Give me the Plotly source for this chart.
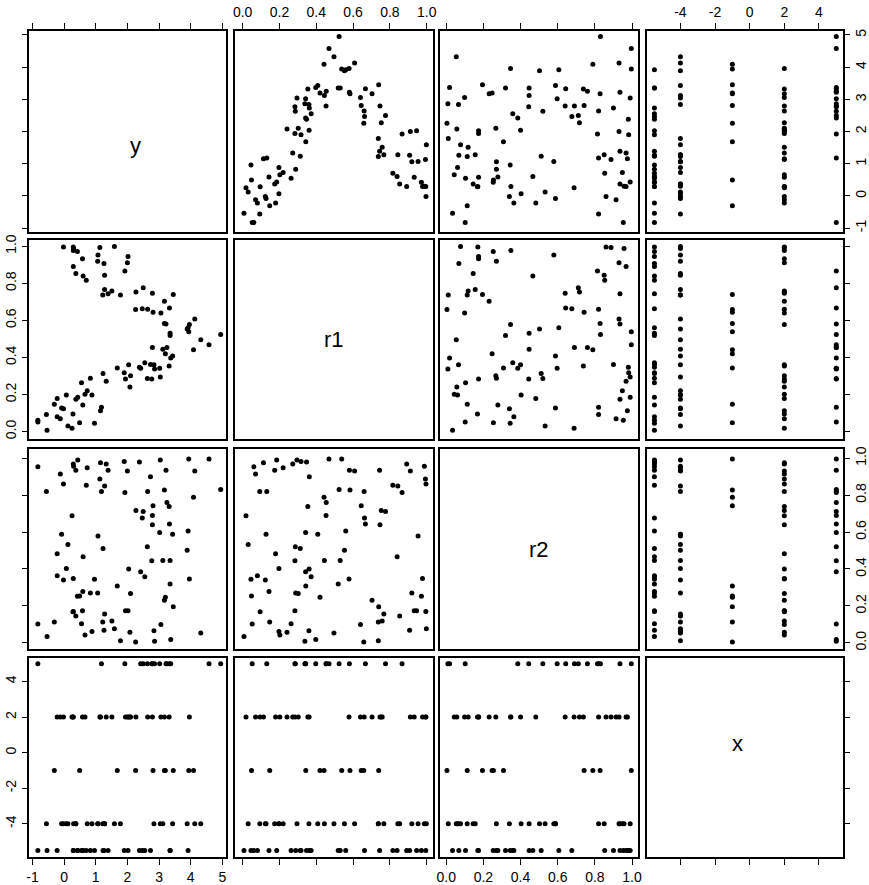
import plotly.graph_objects as go

r1 = [0.007, 0.018, 0.030, 0.045, 0.048, 0.052, 0.061, 0.070, 0.080, 0.093,
      0.095, 0.113, 0.123, 0.127, 0.131, 0.143, 0.147, 0.174, 0.179, 0.185,
      0.197, 0.197, 0.202, 0.220, 0.241, 0.263, 0.272, 0.284, 0.284, 0.286,
      0.288, 0.295, 0.302, 0.313, 0.317, 0.338, 0.342, 0.342, 0.343, 0.347,
      0.354, 0.360, 0.361, 0.362, 0.372, 0.397, 0.408, 0.420, 0.442, 0.444,
      0.453, 0.454, 0.469, 0.496, 0.519, 0.524, 0.530, 0.538, 0.553, 0.560,
      0.578, 0.580, 0.583, 0.608, 0.640, 0.644, 0.658, 0.660, 0.662, 0.667,
      0.703, 0.737, 0.737, 0.739, 0.744, 0.746, 0.753, 0.758, 0.767, 0.776,
      0.816, 0.839, 0.843, 0.853, 0.866, 0.891, 0.907, 0.911, 0.919, 0.932,
      0.945, 0.953, 0.971, 0.977, 0.987, 0.993, 0.995, 0.996, 0.998]
y = [-0.54, 0.25, 0.12, 0.96, 0.49, -0.83, -0.83, -0.12, -0.22, -0.56,
     0.28, 1.15, -0.02, -0.08, 1.18, 0.59, -0.31, 0.37, -0.22, 0.43,
     0.88, 0.07, 0.66, 0.73, 2.08, 0.55, 1.33, 2.77, 1.94, 2.63,
     0.83, 3.04, 2.10, 1.23, 1.90, 2.86, 3.02, 2.42, 1.68, 2.38,
     3.32, 2.84, 2.04, 2.73, 2.55, 3.37, 3.43, 3.20, 4.09, 3.12,
     2.79, 3.25, 4.58, 4.32, 3.35, 4.95, 3.35, 3.94, 3.89, 3.92,
     3.96, 3.22, 3.17, 4.13, 3.06, 2.81, 2.26, 2.64, 2.47, 3.33,
     3.17, 1.22, 1.78, 3.45, 1.39, 2.79, 2.27, 1.51, 1.28, 2.50,
     0.70, 0.60, 1.28, 0.37, 1.92, 0.29, 1.26, 2.00, 1.06, 0.58,
     2.02, 1.07, 0.42, 0.29, 0.30, 1.13, 0.29, -0.02, 1.59]
r2 = [0.034, 0.688, 0.532, 0.344, 0.254, 0.102, 0.953, 0.914, 0.364, 0.820,
      0.168, 0.975, 0.340, 0.588, 0.820, 0.278, 0.113, 0.935, 0.482, 0.990,
      0.061, 0.403, 0.043, 0.948, 0.057, 0.104, 0.968, 0.444, 0.174, 0.520,
      0.270, 0.990, 0.267, 0.511, 0.982, 0.009, 0.597, 0.385, 0.308, 0.980,
      0.738, 0.066, 0.400, 0.900, 0.358, 0.018, 0.588, 0.247, 0.789, 0.446,
      0.690, 0.760, 0.996, 0.054, 0.319, 0.830, 0.446, 0.996, 0.502, 0.606,
      0.346, 0.935, 0.828, 0.930, 0.099, 0.742, 0.004, 0.820, 0.676, 0.643,
      0.231, 0.113, 0.011, 0.195, 0.935, 0.640, 0.717, 0.118, 0.156, 0.711,
      0.853, 0.466, 0.850, 0.145, 0.814, 0.968, 0.068, 0.930, 0.270, 0.174,
      0.174, 0.579, 0.253, 0.348, 0.957, 0.887, 0.170, 0.860, 0.077]
x = [-5.5, 2, -4, -5.5, -1, 5, -5.5, 2, -5.5, -4,
     2, 2, -4, -4, 5, -5.5, -1, -4, 2, -5.5,
     -4, -4, 2, -4, 2, -5.5, 2, 5, 2, 5,
     -5.5, -4, 2, -5.5, -5.5, 5, 5, 5, -1, -5.5,
     2, -4, 2, -5.5, -5.5, 5, -4, -1, -1, -4,
     5, 5, 5, -4, -5.5, 5, -5.5, -1, -4, -5.5,
     2, 5, -1, -4, 2, -1, -1, 2, -5.5, 5,
     2, -4, -4, -1, -5.5, 2, 2, 2, -4, 5,
     -5.5, -5.5, -4, -4, 5, -5.5, -5.5, 2, -4, 2,
     -5.5, -4, -5.5, 2, -4, 2, -5.5, 2, -4]

names = ["y", "r1", "r2", "x"]
tick_vals = {
    "y": [-1, 0, 1, 2, 3, 4, 5],
    "r1": [0.0, 0.2, 0.4, 0.6, 0.8, 1.0],
    "r2": [0.0, 0.2, 0.4, 0.6, 0.8, 1.0],
    "x": [-4, -2, 0, 2, 4],
}
tick_text = {
    "y": ["-1", "0", "1", "2", "3", "4", "5"],
    "r1": ["0.0", "0.2", "0.4", "0.6", "0.8", "1.0"],
    "r2": ["0.0", "0.2", "0.4", "0.6", "0.8", "1.0"],
    "x": ["-4", "-2", "0", "2", "4"],
}

data = {"y": y, "r1": r1, "r2": r2, "x": x}
ranges_h = {"y": [-1.12, 5.13], "r1": [-0.04, 1.034], "r2": [-0.034, 1.03], "x": [-5.9, 5.4]}
ranges_v = {"y": [-1.12, 5.13], "r1": [-0.04, 1.034], "r2": [-0.034, 1.05], "x": [-5.88, 5.32]}

W, H = 869, 885
col_px = [(26, 226), (235, 435), (442, 642), (652, 850)]
row_px = [(25, 228), (236, 437), (447, 649), (658, 859)]

fig = go.Figure()
font = dict(family="Liberation Sans, Arial, sans-serif", size=14, color="black")

n = 4
for i in range(n):
    for j in range(n):
        k = i * n + j + 1
        xa = "x" if k == 1 else f"x{k}"
        ya = "y" if k == 1 else f"y{k}"
        vx = names[j]
        vy = names[i]
        fig.add_trace(go.Scatter(
            x=data[vx], y=data[vy], mode="markers",
            marker=dict(size=5, color="black", opacity=(1 if i != j else 0)),
            xaxis=xa, yaxis=ya, showlegend=False, hoverinfo="skip"))

        xd = [col_px[j][0] / W, col_px[j][1] / W]
        yd = [1 - row_px[i][1] / H, 1 - row_px[i][0] / H]

        if i == j:
            fig.add_annotation(
                x=(xd[0] + xd[1]) / 2, y=(yd[0] + yd[1]) / 2, xref="paper", yref="paper",
                text=vx, showarrow=False,
                font=dict(family="Liberation Sans, Arial, sans-serif", size=22, color="black"))

        xaxis = dict(domain=xd, anchor=ya, range=ranges_h[vx], showgrid=False,
                     zeroline=False, showline=True, mirror=True, linecolor="black",
                     linewidth=1.5, tickfont=font, tickvals=tick_vals[vx],
                     ticktext=tick_text[vx], tickcolor="black", tickwidth=1.2,
                     ticklen=6)
        if i == 0:
            xaxis.update(side="top", ticks="outside", showticklabels=(j % 2 == 1))
        elif i == n - 1:
            xaxis.update(side="bottom", ticks="outside", showticklabels=(j % 2 == 0))
        else:
            xaxis.update(ticks="", showticklabels=False)

        yaxis = dict(domain=yd, anchor=xa, range=ranges_v[vy], showgrid=False,
                     zeroline=False, showline=True, mirror=True, linecolor="black",
                     linewidth=1.5, tickfont=font, tickvals=tick_vals[vy],
                     ticktext=tick_text[vy], tickcolor="black", tickwidth=1.2,
                     ticklen=5, tickangle=-90)
        if j == 0:
            yaxis.update(side="left", ticks="outside", showticklabels=(i % 2 == 1))
        elif j == n - 1:
            yaxis.update(side="right", ticks="outside", showticklabels=(i % 2 == 0),
                         ticklabelstandoff=-1)
        else:
            yaxis.update(ticks="", showticklabels=False)

        fig.update_layout(**{("xaxis" if k == 1 else f"xaxis{k}"): xaxis,
                             ("yaxis" if k == 1 else f"yaxis{k}"): yaxis})

fig.update_layout(width=W, height=H, margin=dict(l=0, r=0, t=0, b=0),
                  plot_bgcolor="white", paper_bgcolor="white", showlegend=False)

# remove the default page margin so the figure fills the window exactly
fig.write_html("out.html", config={"displayModeBar": False},
               post_script="document.body.style.margin='0';document.body.style.overflow='hidden';")
